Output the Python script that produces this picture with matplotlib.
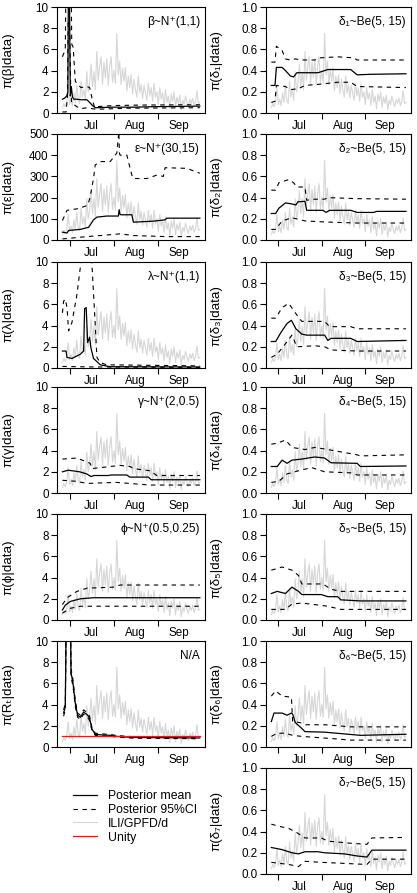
import numpy as np
import matplotlib
matplotlib.use('Agg')
import matplotlib.pyplot as plt
from matplotlib.lines import Line2D

plt.rcParams['font.family'] = ['Liberation Sans', 'DejaVu Sans']
plt.rcParams['font.size'] = 8.4

# days since 1 Jul
days = np.arange(-5, 92)
ili = [0.5, 0.9, 0.6, 1.0, 2.4,
       0.8, 1.3, 0.7, 1.9, 1.0, 2.6, 1.2,
       0.9, 3.0, 1.5, 2.2, 1.2, 3.9, 2.0,
       2.8, 4.6, 2.5, 3.9, 2.2, 5.8, 3.1,
       4.4, 5.3, 2.7, 4.8, 3.3, 5.1, 2.6,
       4.4, 5.3, 2.9, 4.0, 2.8, 7.5, 3.6,
       4.9, 2.7, 4.2, 3.0, 4.3, 2.1, 3.5,
       2.4, 3.6, 1.8, 3.2, 2.2, 1.5, 3.5,
       1.9, 2.7, 1.4, 2.6, 1.9, 1.2, 2.8,
       1.6, 2.4, 1.1, 2.8, 1.5, 2.0, 0.8,
       2.4, 1.3, 1.9, 0.7, 2.2, 1.0, 1.6,
       0.4, 1.8, 1.1, 2.0, 0.5, 1.5, 0.9,
       1.7, 0.3, 1.2, 0.8, 1.6, 1.0, 0.6,
       1.3, 0.9, 1.4, 0.7, 1.1, 2.1, 0.9,
       1.0]

month_ticks = [0, 31, 62]
month_mid = [15, 46, 76]
month_labels = ['Jul', 'Aug', 'Sep']

# ---- left column ----
beta_mean_t = [-5, -3.5, -2, -1.2, -0.8, -0.2, 0.5, 1.2, 2, 3, 5, 8, 12, 14, 16, 18, 19, 30, 45, 60, 75, 91]
beta_mean = [1.3, 1.4, 1.6, 2.0, 13, 13, 1.6, 2.5, 1.5, 1.3, 1.3, 1.25, 1.25, 1.0, 0.7, 0.5, 0.5, 0.55, 0.55, 0.6, 0.62, 0.65]
beta_up_t = [-5, -3, -2.5, -1.5, 1, 1.5, 2.5, 4, 5.5, 8, 12, 14, 16, 17.5, 19, 30, 50, 91]
beta_up = [5.3, 6, 13, 13, 13, 6.5, 6.2, 3.0, 2.7, 2.4, 2.5, 2.4, 1.2, 0.5, 0.6, 0.7, 0.75, 0.78]
beta_lo_t = [-5, -2.5, -1.5, -1, 0, 0.8, 1.5, 3, 5, 8, 12, 16, 19, 40, 91]
beta_lo = [0.1, 0.1, 1.5, 8.5, 8.5, 2, 0.9, 0.8, 0.6, 0.4, 0.5, 0.4, 0.35, 0.45, 0.5]

eps_mean_t = [-5, -1.8, -0.7, 7.5, 13.3, 16.7, 19.1, 26, 34.1, 34.6, 35.3, 36.5, 43.5, 44.6, 58.6, 66.7, 67.9, 91]
eps_mean = [37, 33, 45, 50, 60, 95, 108, 113, 113, 143, 120, 119, 119, 84, 89, 95, 103, 103]
eps_up_t = [-5, -1.8, 6.3, 12.6, 14.4, 16.7, 17.9, 21.4, 28.4, 33, 34.4, 34.8, 35.3, 40, 43.5, 44.6, 54, 60.9, 65.5, 66.7, 81.8, 91]
eps_up = [92, 140, 148, 164, 203, 290, 354, 370, 370, 410, 510, 410, 400, 400, 306, 290, 290, 306, 300, 341, 338, 315]
eps_lo_t = [-5, 12.1, 21.4, 35.3, 44.6, 67.9, 91]
eps_lo = [5, 16, 21, 29, 21, 16, 16]

lam_mean_t = [-5, -2.5, -1.8, 1.65, 7.5, 9.8, 10.5, 11.6, 12.6, 14.0, 14.9, 16.7, 19.1, 21.4, 28.4, 91]
lam_mean = [1.6, 1.6, 1.0, 0.9, 1.3, 1.6, 5.6, 5.7, 2.4, 2.9, 1.9, 0.9, 0.6, 0.3, 0.12, 0.1]
lam_up_t = [-5, -4.2, -3.0, -1.8, -0.7, 1.65, 5.1, 7.5, 8.6, 14.9, 15.6, 17.9, 19.1, 21.4, 26, 91]
lam_up = [5.2, 6.3, 6.5, 5.7, 3.5, 4.3, 6.9, 9.5, 10.5, 10.5, 9.8, 4.1, 1.0, 0.5, 0.3, 0.2]
lam_lo_t = [-5, 15, 91]
lam_lo = [0.15, 0.1, 0.05]

gam_mean_t = [-5, -1, 7, 12, 15, 17, 27, 29, 40, 42, 55, 57, 91]
gam_mean = [2.0, 2.15, 2.0, 1.8, 1.55, 1.65, 1.65, 1.7, 1.7, 1.5, 1.5, 1.25, 1.25]
gam_up_t = [-5, 5.1, 14.4, 15.6, 28.4, 35.3, 42.3, 44.6, 56.2, 60.9, 91]
gam_up = [3.2, 3.3, 2.8, 2.3, 2.5, 2.6, 2.5, 2.3, 2.1, 1.65, 1.65]
gam_lo_t = [-5, 5.1, 12.1, 21.4, 33, 56.2, 91]
gam_lo = [1.2, 1.1, 0.9, 0.95, 1.0, 0.75, 0.75]

phi_mean_t = [-5, -3.0, 0.5, 7.5, 16.7, 91]
phi_mean = [0.95, 1.4, 1.75, 2.0, 2.1, 2.1]
phi_up_t = [-5, -1.8, 5.1, 12.1, 30.7, 35.3, 91]
phi_up = [1.45, 2.1, 2.7, 3.0, 3.1, 3.3, 3.3]
phi_lo_t = [-5, 0.5, 7.5, 91]
phi_lo = [0.65, 1.1, 1.3, 1.3]

rt_t = [-4.2, -3.0, -1.8, -1.5, 0, 1.0, 2.3, 4.0, 5.6, 7.5, 9.8, 12.6, 14.0, 15.6, 17.9, 21.4, 28.4, 33, 44.6, 91]
rt_mean = [3.2, 3.8, 20, 20, 20, 7.0, 6.1, 4.1, 3.0, 2.8, 3.3, 3.0, 2.7, 1.7, 1.2, 1.15, 1.1, 1.0, 0.9, 0.85]
rt_up = [3.5, 4.1, 20, 20, 20, 7.4, 6.4, 4.4, 3.2, 3.0, 3.5, 3.2, 2.9, 1.85, 1.3, 1.25, 1.18, 1.08, 0.97, 0.92]
rt_lo = [2.9, 3.5, 20, 20, 20, 6.6, 5.8, 3.8, 2.8, 2.6, 3.1, 2.8, 2.5, 1.55, 1.1, 1.05, 1.02, 0.93, 0.83, 0.78]

# ---- right column (delta_1 .. delta_7) ----
d1_mean_t = [-5, -2.4, -1.4, 2.7, 5.1, 8.5, 10.9, 13.2, 19, 28.3, 35.3, 51.6, 56.2, 65.6, 91]
d1_mean = [0.26, 0.26, 0.43, 0.43, 0.40, 0.35, 0.34, 0.38, 0.38, 0.38, 0.41, 0.41, 0.36, 0.365, 0.37]
d1_up_t = [-5, -2.4, -1.4, 2.7, 5.1, 8.5, 12.1, 16.7, 26, 29.5, 42.3, 53.9, 56.2, 91]
d1_up = [0.48, 0.48, 0.63, 0.59, 0.51, 0.50, 0.51, 0.50, 0.50, 0.52, 0.53, 0.52, 0.50, 0.50]
d1_lo_t = [-5, -2.4, -1.4, 5.1, 8.5, 14.4, 19, 28.3, 42.3, 51.6, 56.2, 91]
d1_lo = [0.10, 0.11, 0.26, 0.25, 0.22, 0.23, 0.26, 0.27, 0.29, 0.29, 0.25, 0.24]

d2_mean_t = [-5, -1.9, 0.4, 5.1, 9.7, 12.5, 13.9, 19, 20.2, 31.8, 34.1, 36.5, 51.6, 56.2, 67.9, 70.2, 91]
d2_mean = [0.25, 0.25, 0.30, 0.35, 0.34, 0.33, 0.36, 0.365, 0.28, 0.28, 0.26, 0.28, 0.28, 0.26, 0.26, 0.27, 0.27]
d2_up_t = [-5, -1.9, 0.4, 7.4, 10.9, 13.2, 19, 20.2, 26, 33, 35.3, 56.2, 91]
d2_up = [0.47, 0.47, 0.54, 0.57, 0.54, 0.50, 0.50, 0.375, 0.385, 0.385, 0.40, 0.39, 0.385]
d2_lo_t = [-5, -1.9, 2.7, 9.7, 19, 33, 56.2, 91]
d2_lo = [0.10, 0.10, 0.18, 0.21, 0.18, 0.17, 0.16, 0.16]

d3_mean_t = [-5, -1.9, 1.6, 6.2, 9.3, 12.5, 16.7, 20.2, 33, 35.3, 37.6, 51.6, 56.2, 91]
d3_mean = [0.25, 0.25, 0.33, 0.42, 0.45, 0.37, 0.32, 0.31, 0.31, 0.26, 0.28, 0.28, 0.25, 0.26]
d3_up_t = [-5, -1.9, 2.7, 7.4, 12.1, 16.7, 33, 36.5, 51.6, 56.2, 91]
d3_up = [0.47, 0.47, 0.57, 0.61, 0.52, 0.44, 0.44, 0.39, 0.39, 0.37, 0.37]
d3_lo_t = [-5, -0.8, 5.1, 9.7, 13.2, 26, 33, 37.6, 56.2, 91]
d3_lo = [0.10, 0.13, 0.23, 0.31, 0.20, 0.21, 0.20, 0.17, 0.16, 0.16]

d4_mean_t = [-5, -0.8, 2.7, 6.2, 9.7, 16.7, 26, 33, 37.6, 56.2, 58.5, 91]
d4_mean = [0.25, 0.25, 0.31, 0.28, 0.31, 0.32, 0.34, 0.33, 0.285, 0.28, 0.25, 0.255]
d4_up_t = [-5, -0.8, 5.1, 9.7, 19, 26, 35.3, 56.2, 58.5, 91]
d4_up = [0.46, 0.47, 0.50, 0.43, 0.41, 0.43, 0.41, 0.36, 0.35, 0.36]
d4_lo_t = [-5, 0.4, 6.2, 14.4, 23.7, 33, 51.6, 56.2, 91]
d4_lo = [0.10, 0.11, 0.18, 0.21, 0.24, 0.20, 0.19, 0.17, 0.17]

d5_mean_t = [-5, -0.8, 5.1, 9.7, 14.4, 16.7, 30.6, 35.3, 42.3, 44.6, 58.5, 91]
d5_mean = [0.25, 0.27, 0.25, 0.31, 0.27, 0.24, 0.24, 0.22, 0.22, 0.19, 0.18, 0.18]
d5_up_t = [-5, 2.7, 9.7, 14.4, 16.7, 31.8, 37.6, 44.6, 91]
d5_up = [0.47, 0.50, 0.47, 0.42, 0.34, 0.34, 0.29, 0.27, 0.27]
d5_lo_t = [-5, 5.1, 9.7, 16.7, 35.3, 44.6, 60.9, 91]
d5_lo = [0.10, 0.10, 0.15, 0.16, 0.13, 0.10, 0.10, 0.10]

d6_mean_t = [-5, -3.1, 2.7, 6.2, 9.3, 10.2, 12.1, 15.5, 19, 33, 58.5, 91]
d6_mean = [0.24, 0.32, 0.32, 0.30, 0.32, 0.31, 0.23, 0.19, 0.145, 0.14, 0.11, 0.12]
d6_up_t = [-5, -1.9, 2.7, 9.3, 10.2, 15.5, 19, 33, 51.6, 91]
d6_up = [0.48, 0.53, 0.48, 0.47, 0.24, 0.23, 0.21, 0.21, 0.19, 0.19]
d6_lo_t = [-5, -0.8, 5.1, 10.2, 16.7, 37.6, 51.6, 91]
d6_lo = [0.10, 0.13, 0.13, 0.11, 0.10, 0.08, 0.065, 0.065]

d7_mean_t = [-5, 2.7, 9.7, 14.4, 19, 28.3, 33, 47, 56.2, 63.2, 66.7, 91]
d7_mean = [0.25, 0.23, 0.20, 0.19, 0.21, 0.21, 0.20, 0.19, 0.17, 0.16, 0.225, 0.225]
d7_up_t = [-5, 0.4, 7.4, 13.2, 16.7, 19, 30.6, 35.3, 51.6, 63.2, 66.7, 91]
d7_up = [0.47, 0.45, 0.43, 0.39, 0.36, 0.34, 0.34, 0.31, 0.29, 0.28, 0.34, 0.345]
d7_lo_t = [-5, 7.4, 14.4, 19, 30.6, 47, 63.2, 66.7, 91]
d7_lo = [0.11, 0.09, 0.07, 0.12, 0.11, 0.10, 0.09, 0.14, 0.14]

GREY = '#d6d6d6'
RED = '#d62020'
W, H = 417, 893
tops = [7, 134, 262, 387, 514, 641, 768]
ph = 106

fig = plt.figure(figsize=(W / 100, H / 100), dpi=100)


def make_ax(col, row):
    x0, x1 = (57, 205) if col == 0 else (266, 411)
    return fig.add_axes([x0 / W, 1 - (tops[row] + ph) / H, (x1 - x0) / W, ph / H])


def draw(ax, scale, mean, up, lo, ymax, yticks, ylabel, note, ylab_x, fmt=None):
    ax.plot(days, np.array(ili) * scale, color=GREY, lw=0.8)
    ax.plot(up[0], up[1], color='black', lw=0.8, ls=(0, (4, 4)))
    ax.plot(lo[0], lo[1], color='black', lw=0.8, ls=(0, (4, 4)))
    ax.plot(mean[0], mean[1], color='black', lw=0.9)
    ax.set_xlim(-8.8, 94.6)
    ax.set_ylim(0, ymax)
    ax.set_yticks(yticks)
    if fmt:
        ax.set_yticklabels([fmt % v for v in yticks])
    ax.set_xticks(month_ticks)
    ax.set_xticklabels([])
    ax.set_xticks(month_mid, minor=True)
    ax.set_xticklabels(month_labels, minor=True)
    ax.tick_params(axis='x', which='major', length=4.2, width=0.8, direction='out')
    ax.tick_params(axis='x', which='minor', length=0, pad=5.0, labelsize=8.4)
    ax.tick_params(axis='y', length=4.5, width=0.8, pad=1.5, labelsize=8.4)
    for s in ax.spines.values():
        s.set_linewidth(0.8)
    ax.set_ylabel(ylabel, fontsize=9.6)
    ax.yaxis.set_label_coords(ylab_x, 0.5)
    ax.text(0.966, 0.86, note, transform=ax.transAxes, ha='right', va='center', fontsize=8.6)


left = [
    (1, (beta_mean_t, beta_mean), (beta_up_t, beta_up), (beta_lo_t, beta_lo), 10, [0, 2, 4, 6, 8, 10], 'π(β|data)', 'β~N⁺(1,1)'),
    (50, (eps_mean_t, eps_mean), (eps_up_t, eps_up), (eps_lo_t, eps_lo), 500, [0, 100, 200, 300, 400, 500], 'π(ε|data)', 'ε~N⁺(30,15)'),
    (1, (lam_mean_t, lam_mean), (lam_up_t, lam_up), (lam_lo_t, lam_lo), 10, [0, 2, 4, 6, 8, 10], 'π(λ|data)', 'λ~N⁺(1,1)'),
    (1, (gam_mean_t, gam_mean), (gam_up_t, gam_up), (gam_lo_t, gam_lo), 10, [0, 2, 4, 6, 8, 10], 'π(γ|data)', 'γ~N⁺(2,0.5)'),
    (1, (phi_mean_t, phi_mean), (phi_up_t, phi_up), (phi_lo_t, phi_lo), 10, [0, 2, 4, 6, 8, 10], 'π(ϕ|data)', 'ϕ~N⁺(0.5,0.25)'),
    (1, (rt_t, rt_mean), (rt_t, rt_up), (rt_t, rt_lo), 10, [0, 2, 4, 6, 8, 10], 'π(Rₜ|data)', 'N/A'),
]
for i, (sc, m, u, l, ymax, yt, yl, note) in enumerate(left):
    ax = make_ax(0, i)
    draw(ax, sc, m, u, l, ymax, yt, yl, note, -0.29)
    if i == 5:
        ax.plot([-5, 91], [1, 1], color=RED, lw=0.9)

right = [
    ((d1_mean_t, d1_mean), (d1_up_t, d1_up), (d1_lo_t, d1_lo)),
    ((d2_mean_t, d2_mean), (d2_up_t, d2_up), (d2_lo_t, d2_lo)),
    ((d3_mean_t, d3_mean), (d3_up_t, d3_up), (d3_lo_t, d3_lo)),
    ((d4_mean_t, d4_mean), (d4_up_t, d4_up), (d4_lo_t, d4_lo)),
    ((d5_mean_t, d5_mean), (d5_up_t, d5_up), (d5_lo_t, d5_lo)),
    ((d6_mean_t, d6_mean), (d6_up_t, d6_up), (d6_lo_t, d6_lo)),
    ((d7_mean_t, d7_mean), (d7_up_t, d7_up), (d7_lo_t, d7_lo)),
]
subs = '₁₂₃₄₅₆₇'
for i, (m, u, l) in enumerate(right):
    ax = make_ax(1, i)
    draw(ax, 0.1, m, u, l, 1.0, [0, 0.2, 0.4, 0.6, 0.8, 1.0],
         'π(δ%s|data)' % subs[i], 'δ%s~Be(5, 15)' % subs[i], -0.30, fmt='%.1f')

handles = [Line2D([], [], color='black', lw=0.9),
           Line2D([], [], color='black', lw=0.8, ls=(0, (4, 4))),
           Line2D([], [], color=GREY, lw=0.8),
           Line2D([], [], color=RED, lw=0.9)]
labels = ['Posterior mean', 'Posterior 95%CI', 'ILI/GPFD/d', 'Unity']
fig.legend(handles, labels, loc='upper left', bbox_to_anchor=(73 / W, 1 - 790 / H),
           frameon=False, fontsize=8.8, handlelength=2.0, handletextpad=0.85,
           labelspacing=0.15, borderpad=0, borderaxespad=0)

fig.savefig('out.png', dpi=100)
